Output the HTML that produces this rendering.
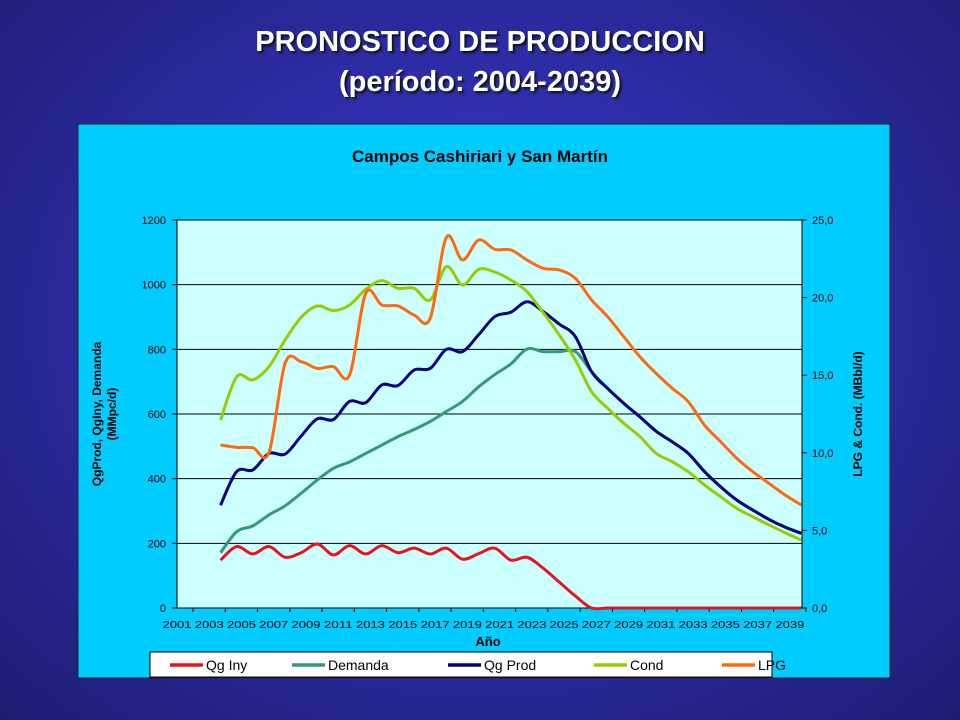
<!DOCTYPE html>
<html><head><meta charset="utf-8">
<style>
html,body{margin:0;padding:0;}
body{width:960px;height:720px;overflow:hidden;background:radial-gradient(ellipse at 50% 45%,#3b3bd0 0%,#2d2da8 45%,#1d1d72 100%);font-family:"Liberation Sans",sans-serif;position:relative;}
.t{position:absolute;left:0;width:960px;text-align:center;color:#fff;font-weight:bold;font-size:29px;text-shadow:2px 2px 2px #111;}
</style></head><body>
<div class="t" style="top:26px">PRONOSTICO DE PRODUCCION</div>
<div class="t" style="top:66px">(período: 2004-2039)</div>
<svg id="chart" width="960" height="720" style="position:absolute;left:0;top:0">
<rect x="78" y="124" width="812" height="554" fill="#00ccff" stroke="#222"/>
<text x="480" y="162" text-anchor="middle" font-size="17" font-weight="bold" fill="#000">Campos Cashiriari y San Martín</text>
<rect x="177" y="220" width="625" height="388" fill="#ccffff"/>
<g id="grid"></g><g id="axes"></g><g id="series"></g>
<text transform="translate(101,414) rotate(-90)" text-anchor="middle" font-size="12" font-weight="bold"><tspan x="0" dy="0">QgProd, QgIny, Demanda</tspan><tspan x="0" dy="15">(MMpc/d)</tspan></text>
<text transform="translate(862,414) rotate(-90)" text-anchor="middle" font-size="12" font-weight="bold">LPG &amp; Cond. (MBbl/d)</text>
<text x="488" y="646" text-anchor="middle" font-size="13" font-weight="bold">Año</text>
<rect x="150" y="652" width="622" height="25" fill="#fff" stroke="#000"/>
<g id="legend"></g>
</svg>
<script>
const years=[];for(let i=0;i<37;i++)years.push(2003.7+i);
const qgIny=[148,190,167,190,157,171,198,164,193,167,193,171,185,167,185,151,168,185,148,157,123,80,37,0,0,0,0,0,0,0,0,0,0,0,0,0,0];
const demanda=[171,236,254,288,316,355,396,432,452,478,504,530,552,577,608,639,684,722,755,801,793,793,793,731,679,633,591,547,514,478,422,375,334,303,274,250,231];
const qgProd=[318,422,427,478,476,532,585,583,639,635,690,688,736,741,800,793,845,901,915,947,917,878,839,731,679,633,591,547,514,478,422,375,334,303,274,250,231];
const cond=[12.1,14.9,14.7,15.55,17.27,18.73,19.46,19.16,19.52,20.53,21.09,20.6,20.6,19.85,22.0,20.81,21.82,21.65,21.13,20.38,19.03,17.59,15.98,13.94,12.87,11.9,11.04,9.97,9.43,8.78,7.93,7.17,6.42,5.88,5.35,4.85,4.38];
const lpg=[10.5,10.35,10.33,10.01,15.76,15.87,15.44,15.55,15.01,20.27,19.52,19.46,18.88,18.67,23.88,22.42,23.71,23.11,23.07,22.42,21.89,21.78,21.24,19.85,18.77,17.48,16.19,15.12,14.16,13.29,11.79,10.72,9.65,8.78,8.03,7.28,6.64];
const xLabels=[2001,2003,2005,2007,2009,2011,2013,2015,2017,2019,2021,2023,2025,2027,2029,2031,2033,2035,2037,2039];
const leftTicks=[0,200,400,600,800,1000,1200];
const rightTicks=[0,5,10,15,20,25];
const X0=177,X1=802,Y0=608,Y1=220;
const xs=t=>X0+(t-2001)*16.13;
const yl=v=>Y0-(v/1200)*(Y0-Y1);
const yr=v=>Y0-(v/25)*(Y0-Y1);
const NS="http://www.w3.org/2000/svg";
function mk(tag,attrs,parent){const e=document.createElementNS(NS,tag);for(const k in attrs)e.setAttribute(k,attrs[k]);parent.appendChild(e);return e;}
const grid=document.getElementById('grid'),axes=document.getElementById('axes'),ser=document.getElementById('series'),leg=document.getElementById('legend');
leftTicks.forEach(v=>{
  const y=yl(v);
  if(v>0){const g=mk('line',{x1:X0,x2:X1,y1:y,y2:y,stroke:'#000','stroke-width':1},grid);
  
  }
  const tk=mk('line',{x1:X0-5,x2:X0,y1:y,y2:y,stroke:'#000'},axes);
  
  
  const t=mk('text',{x:X0-11,y:y+4,'text-anchor':'end','font-size':11},axes);t.textContent=v;
  
  
});
rightTicks.forEach(v=>{
  const y=yr(v);
  const tk=mk('line',{x1:X1,x2:X1+5,y1:y,y2:y,stroke:'#000'},axes);
  
  
  const t=mk('text',{x:X1+10,y:y+4,'font-size':11},axes);t.textContent=v.toFixed(1).replace('.',',');
  
  
});
xLabels.forEach(v=>{
  const x=xs(v);
  const tk=mk('line',{x1:x+16,x2:x+16,y1:Y0,y2:Y0+4,stroke:'#000'},axes);
  
  
  const t=mk('text',{x:x,y:628,'text-anchor':'middle','font-size':10.5,'textLength':29,'lengthAdjust':'spacingAndGlyphs'},axes);t.textContent=v;
  
  
});
const ax1=mk('line',{x1:X0,x2:X0,y1:Y1,y2:Y0,stroke:'#000'},axes);


const ax2=mk('line',{x1:X1,x2:X1,y1:Y1,y2:Y0,stroke:'#000'},axes);


const ax3=mk('line',{x1:X0,x2:X1,y1:Y0,y2:Y0,stroke:'#000'},axes);


function smooth(pts){let d='M'+pts[0][0]+','+pts[0][1];
  for(let i=0;i<pts.length-1;i++){const p0=pts[i-1]||pts[i],p1=pts[i],p2=pts[i+1],p3=pts[i+2]||p2;
    const c1=[p1[0]+(p2[0]-p0[0])/6,p1[1]+(p2[1]-p0[1])/6],c2=[p2[0]-(p3[0]-p1[0])/6,p2[1]-(p3[1]-p1[1])/6];
    d+=' C'+c1+' '+c2+' '+p2;}return d;}
const series=[
 {name:'Qg Iny',data:qgIny,sc:yl,color:'#e8141c',id:'qg-iny'},
 {name:'Demanda',data:demanda,sc:yl,color:'#339977',id:'demanda'},
 {name:'Qg Prod',data:qgProd,sc:yl,color:'#000080',id:'qg-prod'},
 {name:'Cond',data:cond,sc:yr,color:'#99cc00',id:'cond'},
 {name:'LPG',data:lpg,sc:yr,color:'#ff6a10',id:'lpg'}];
series.forEach(s=>{
  const pts=s.data.map((v,i)=>[xs(years[i]),s.sc(v)]);
  const p=mk('path',{d:smooth(pts),fill:'none',stroke:s.color,'stroke-width':3,'stroke-linejoin':'round'},ser);
  
  
});
const legX=[170,292,448,594,722];
series.forEach((s,i)=>{
  const l=mk('line',{x1:legX[i],x2:legX[i]+33,y1:665,y2:665,stroke:s.color,'stroke-width':3.5},leg);
  
  
  const t=mk('text',{x:legX[i]+36,y:670,'font-size':14},leg);t.textContent=s.name;
  
  
});
</script>
</body></html>
